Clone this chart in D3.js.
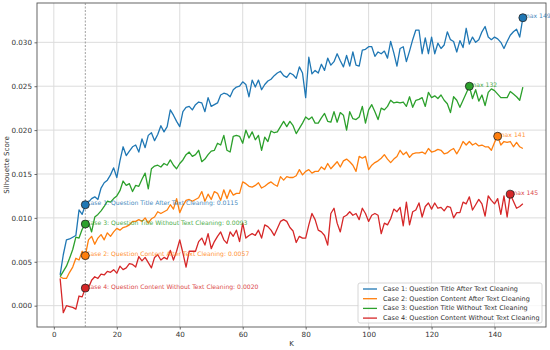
<!DOCTYPE html>
<html>
<head>
<meta charset="utf-8">
<script src="https://cdn.jsdelivr.net/npm/d3@7/dist/d3.min.js"></script>
<style>
  body { margin: 0; background: #fff; }
  text { font-family: "DejaVu Sans", sans-serif; }
</style>
</head>
<body>
<script>
// silhouette score per K, four cases

const K = d3.range(2, 150);

const case1 = [
  .0035, .0058, .0075, .0076, .0078, .0080, .0109, .0104, .0115, .0118,
  .0122, .0124, .0121, .0134, .0140, .0143, .0149, .0157, .0146, .0165,
  .0181, .0171, .0176, .0181, .0183, .0175, .0190, .0180, .0194, .0197,
  .0188, .0195, .0205, .0198, .0204, .0223, .0217, .0210, .0204, .0221,
  .0226, .0227, .0223, .0229, .0232, .0231, .0221, .0237, .0227, .0229,
  .0231, .0240, .0242, .0241, .0238, .0246, .0249, .0250, .0255, .0252,
  .0238, .0257, .0249, .0257, .0246, .0252, .0256, .0258, .0262, .0265,
  .0267, .0262, .0260, .0265, .0263, .0259, .0272, .0265, .0237, .0283,
  .0264, .0268, .0265, .0275, .0268, .0282, .0274, .0278, .0287, .0279,
  .0272, .0285, .0273, .0289, .0274, .0273, .0291, .0292, .0295, .0295,
  .0284, .0289, .0287, .0290, .0282, .0301, .0288, .0273, .0293, .0295,
  .0278, .0290, .0303, .0314, .0314, .0287, .0305, .0287, .0306, .0287,
  .0299, .0293, .0297, .0312, .0303, .0301, .0289, .0302, .0294, .0316,
  .0298, .0306, .0300, .0303, .0312, .0318, .0306, .0303, .0306, .0304,
  .0300, .0293, .0301, .0308, .0312, .0315, .0306, .0328
];

const case2 = [
  .0033, .0031, .0031, .0038, .0044, .0054, .0052, .0062, .0057, .0075,
  .0079, .0070, .0077, .0081, .0075, .0083, .0079, .0084, .0088, .0086,
  .0089, .0090, .0092, .0096, .0096, .0098, .0096, .0100, .0094, .0099,
  .0101, .0107, .0105, .0107, .0109, .0115, .0110, .0122, .0106, .0114,
  .0120, .0121, .0119, .0121, .0123, .0130, .0119, .0127, .0121, .0130,
  .0128, .0120, .0132, .0122, .0132, .0126, .0128, .0128, .0141, .0139,
  .0136, .0135, .0137, .0140, .0134, .0136, .0139, .0141, .0138, .0136,
  .0147, .0143, .0147, .0146, .0146, .0148, .0155, .0149, .0153, .0155,
  .0151, .0153, .0153, .0158, .0155, .0162, .0156, .0160, .0164, .0158,
  .0165, .0167, .0164, .0160, .0153, .0170, .0168, .0170, .0155, .0160,
  .0163, .0165, .0168, .0172, .0167, .0163, .0167, .0170, .0177, .0172,
  .0175, .0169, .0173, .0174, .0174, .0175, .0173, .0179, .0175, .0176,
  .0178, .0177, .0173, .0174, .0177, .0179, .0173, .0179, .0187, .0183,
  .0187, .0183, .0185, .0182, .0183, .0181, .0181, .0177, .0186, .0193,
  .0183, .0187, .0186, .0187, .0181, .0186, .0181, .0179
];

const case3 = [
  .0033, .0039, .0045, .0054, .0064, .0078, .0077, .0087, .0093, .0095,
  .0084, .0101, .0104, .0108, .0113, .0119, .0118, .0122, .0125, .0131,
  .0142, .0137, .0139, .0130, .0137, .0136, .0144, .0151, .0133, .0156,
  .0159, .0160, .0158, .0162, .0160, .0166, .0160, .0156, .0162, .0166,
  .0172, .0175, .0170, .0172, .0177, .0164, .0167, .0172, .0176, .0177,
  .0185, .0183, .0194, .0177, .0175, .0193, .0194, .0193, .0185, .0200,
  .0191, .0198, .0189, .0194, .0177, .0192, .0187, .0199, .0197, .0198,
  .0204, .0210, .0204, .0210, .0205, .0196, .0202, .0208, .0215, .0212,
  .0215, .0208, .0208, .0214, .0219, .0210, .0209, .0221, .0209, .0220,
  .0217, .0200, .0221, .0213, .0212, .0215, .0227, .0208, .0223, .0229,
  .0221, .0212, .0225, .0223, .0227, .0234, .0231, .0232, .0231, .0232,
  .0227, .0238, .0226, .0234, .0235, .0237, .0227, .0243, .0237, .0239,
  .0236, .0240, .0234, .0230, .0220, .0238, .0234, .0226, .0234, .0242,
  .0250, .0236, .0246, .0233, .0240, .0228, .0243, .0247, .0245, .0241,
  .0237, .0237, .0237, .0244, .0241, .0238, .0234, .0249
];

const case4 = [
  .0031, -.0008, .0000, -.0001, -.0002, -.0004, .0011, .0010, .0020, .0020,
  .0029, .0033, .0031, .0036, .0035, .0039, .0038, .0041, .0037, .0045,
  .0041, .0043, .0048, .0047, .0044, .0056, .0051, .0055, .0049, .0043,
  .0055, .0058, .0052, .0055, .0053, .0063, .0052, .0062, .0075, .0060,
  .0044, .0062, .0062, .0062, .0073, .0077, .0069, .0082, .0065, .0073,
  .0079, .0084, .0075, .0071, .0084, .0079, .0086, .0073, .0094, .0077,
  .0080, .0082, .0080, .0086, .0077, .0092, .0090, .0086, .0080, .0088,
  .0096, .0098, .0096, .0089, .0085, .0072, .0079, .0077, .0077, .0092,
  .0105, .0098, .0086, .0084, .0080, .0069, .0105, .0111, .0094, .0084,
  .0101, .0103, .0107, .0103, .0105, .0098, .0111, .0105, .0096, .0103,
  .0105, .0103, .0082, .0094, .0092, .0099, .0110, .0107, .0112, .0091,
  .0118, .0092, .0107, .0109, .0117, .0101, .0113, .0117, .0110, .0117,
  .0111, .0112, .0108, .0113, .0112, .0100, .0106, .0106, .0118, .0116,
  .0124, .0109, .0115, .0121, .0116, .0102, .0125, .0120, .0116, .0122,
  .0104, .0125, .0101, .0127, .0119, .0111, .0113, .0116
];

const names = [
  "Case 1: Question Title After Text Cleaning",
  "Case 2: Question Content After Text Cleaning",
  "Case 3: Question Title Without Text Cleaning",
  "Case 4: Question Content Without Text Cleaning"
];
const colors = ["#1f77b4", "#ff7f0e", "#2ca02c", "#d62728"];

const xTicks = [0, 20, 40, 60, 80, 100, 120, 140];
const yTicks = [0, 0.005, 0.010, 0.015, 0.020, 0.025, 0.030];
const markK = 10;

const series = [case1, case2, case3, case4].map((vals, i) => ({
  name: names[i], color: colors[i], values: vals
}));

const W = 550, H = 350;
const pl = 37, pr = 546, pt = 3, pb = 327;

const svg = d3.select("body").append("svg")
  .attr("width", W)
  .attr("height", H);

const x = d3.scaleLinear().domain([-5.35, 156.35]).range([pl, pr]);
const y = d3.scaleLinear().domain([-0.00243, 0.03448]).range([pb, pt]);

// grid
svg.append("g")
  .selectAll("line")
  .data(xTicks)
  .join("line")
  .attr("x1", d => x(d)).attr("x2", d => x(d))
  .attr("y1", pt).attr("y2", pb)
  .style("stroke", "#dcdcdc")
  .style("stroke-width", 1);

svg.append("g")
  .selectAll("line")
  .data(yTicks)
  .join("line")
  .attr("x1", pl).attr("x2", pr)
  .attr("y1", d => y(d)).attr("y2", d => y(d))
  .style("stroke", "#dcdcdc")
  .style("stroke-width", 1);

// axes (tick labels only)
const xAxis = svg.append("g")
  .attr("transform", `translate(0,${pb})`)
  .call(d3.axisBottom(x).tickValues(xTicks).tickSize(2.5).tickPadding(2.5).tickFormat(d3.format("d")));

const yAxis = svg.append("g")
  .attr("transform", `translate(${pl},0)`)
  .call(d3.axisLeft(y).tickValues(yTicks).tickSize(2.5).tickPadding(2.5).tickFormat(d3.format(".3f")));

[xAxis, yAxis].forEach(a => {
  a.select(".domain").remove();
  a.selectAll(".tick line").style("stroke", "#444").style("stroke-width", 0.8);
  a.selectAll(".tick text")
    .style("font-size", "7.2px")
    .style("fill", "#333");
});

// box
svg.append("rect")
  .attr("x", pl).attr("y", pt)
  .attr("width", pr - pl).attr("height", pb - pt)
  .style("fill", "none")
  .style("stroke", "#555")
  .style("stroke-width", 0.9);

// dashed marker line
svg.append("line")
  .attr("x1", x(markK)).attr("x2", x(markK))
  .attr("y1", pt).attr("y2", pb)
  .style("stroke", "#888")
  .style("stroke-width", 0.8)
  .style("stroke-dasharray", "2,1.5");

// lines
const line = d3.line()
  .x((d, i) => x(K[i]))
  .y(d => y(d));

svg.append("g")
  .selectAll("path")
  .data(series)
  .join("path")
  .attr("d", d => line(d.values))
  .style("fill", "none")
  .style("stroke", d => d.color)
  .style("stroke-width", 1.3)
  .style("stroke-linejoin", "round");

// annotations at K = 10 and at each max
const mi = K.indexOf(markK);
const notes = svg.append("g");

series.forEach(s => {
  const v = s.values[mi];
  notes.append("text")
    .attr("x", x(markK) + 1)
    .attr("y", y(v) - 2)
    .attr("dominant-baseline", "central")
    .style("font-size", "6.1px")
    .style("fill", s.color)
    .style("opacity", 0.85)
    .text(`${s.name}: ${v.toFixed(4)}`);

  const maxI = d3.maxIndex(s.values);
  notes.append("text")
    .attr("x", x(K[maxI]) + 1)
    .attr("y", y(s.values[maxI]) - 2)
    .attr("dominant-baseline", "central")
    .style("font-size", "6.1px")
    .style("fill", s.color)
    .style("opacity", 0.85)
    .text(`max ${K[maxI]}`);
});

series.forEach(s => {
  const maxI = d3.maxIndex(s.values);
  [mi, maxI].forEach(i => {
    notes.append("circle")
      .attr("cx", x(K[i]))
      .attr("cy", y(s.values[i]))
      .attr("r", 4)
      .style("fill", s.color)
      .style("stroke", "#222")
      .style("stroke-width", 0.8);
  });
});

// labels
svg.append("text")
  .attr("x", (pl + pr) / 2)
  .attr("y", 346)
  .attr("text-anchor", "middle")
  .style("font-size", "7px")
  .style("fill", "#333")
  .text("K");

svg.append("text")
  .attr("transform", `translate(9,${(pt + pb) / 2}) rotate(-90)`)
  .attr("text-anchor", "middle")
  .style("font-size", "7px")
  .style("fill", "#333")
  .text("Silhouette Score");

// legend
const lg = svg.append("g").attr("transform", "translate(358,283)");
lg.append("rect")
  .attr("width", 184).attr("height", 40)
  .attr("rx", 2)
  .style("fill", "#fff")
  .style("fill-opacity", 0.8)
  .style("stroke", "#ccc")
  .style("stroke-width", 0.8);

const rows = lg.selectAll("g")
  .data(series)
  .join("g")
  .attr("transform", (d, i) => `translate(0,${6 + i * 9.7})`);

rows.append("line")
  .attr("x1", 5).attr("x2", 19)
  .style("stroke", d => d.color)
  .style("stroke-width", 1.3);

rows.append("text")
  .attr("x", 25)
  .attr("dominant-baseline", "central")
  .style("font-size", "6.5px")
  .style("fill", "#333")
  .text(d => d.name);
</script>
</body>
</html>
